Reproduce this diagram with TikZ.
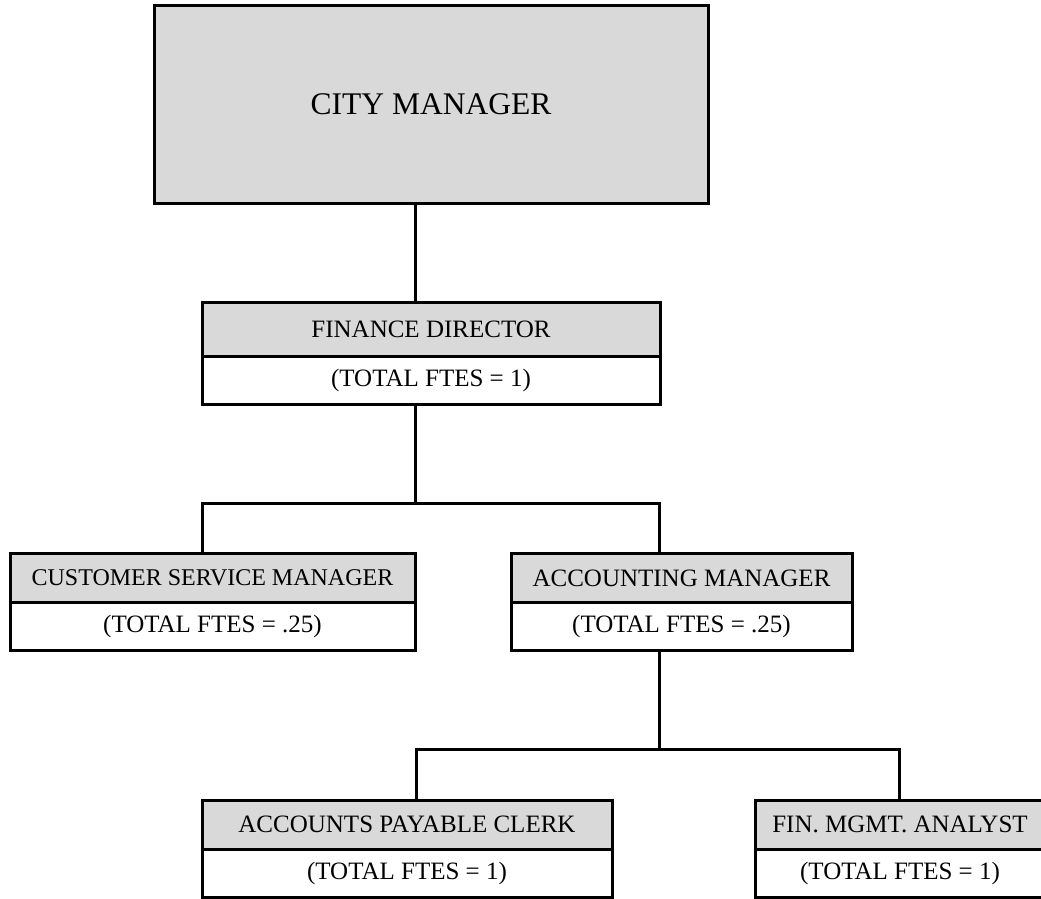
\documentclass[tikz,border=0pt]{standalone}
\usepackage{fontspec}
\setmainfont{Liberation Serif}
\usetikzlibrary{calc, positioning}
\definecolor{boxgray}{HTML}{D9D9D9}

\begin{document}
\begin{tikzpicture}[x=1pt, y=-1pt,
    headcell/.style = {draw, fill=boxgray, line width=3pt, minimum height=49pt,
                       inner sep=0pt, outer sep=0pt, font=\fontsize{25}{30}\selectfont},
    ftecell/.style  = {draw, fill=white, line width=3pt, minimum height=48pt,
                       inner sep=0pt, outer sep=0pt, font=\fontsize{25}{30}\selectfont},
    orgline/.style  = {line width=3pt}]
  \useasboundingbox (0,0) rectangle (1041,899);

  \node [headcell, minimum width=554pt, minimum height=197pt,
         font=\fontsize{31.5}{36}\selectfont] (cm) at (431,104.5) {CITY MANAGER};

  \node [headcell, minimum width=458pt, minimum height=54pt] (fd) at (431,329) {FINANCE DIRECTOR};
  \node [ftecell, minimum width=458pt, below = 0pt of fd] (fdfte) {(TOTAL FTES = 1)};

  \node [headcell, minimum width=405pt, font=\fontsize{24}{29}\selectfont] (csm) at (212.5,578) {CUSTOMER SERVICE MANAGER};
  \node [ftecell, minimum width=405pt, below = 0pt of csm] (csmfte) {(TOTAL FTES = .25)};

  \node [headcell, minimum width=341pt] (am) at (681.5,578) {ACCOUNTING MANAGER};
  \node [ftecell, minimum width=341pt, below = 0pt of am] (amfte) {(TOTAL FTES = .25)};

  \node [headcell, minimum width=410pt] (apc) at (407,824.5) {ACCOUNTS PAYABLE CLERK};
  \node [ftecell, minimum width=410pt, below = 0pt of apc] (apcfte) {(TOTAL FTES = 1)};

  \node [headcell, minimum width=290pt] (fma) at (900,824.5) {FIN. MGMT. ANALYST};
  \node [ftecell, minimum width=290pt, below = 0pt of fma] (fmafte) {(TOTAL FTES = 1)};

  % city manager down to finance
  \draw [orgline] ([xshift=-16pt]cm.south) -- ([xshift=-16pt]fd.north);

  % finance to the two managers
  \coordinate (fdjoin) at ($(fdfte.south) + (-16,99)$);
  \coordinate (csmtop) at ([xshift=-10.5pt]csm.north);
  \coordinate (amtop) at ([xshift=-22.5pt]am.north);
  \draw [orgline] ([xshift=-16pt]fdfte.south) -- (fdjoin);
  \draw [orgline] (csmtop) -- (csmtop |- fdjoin) -- (amtop |- fdjoin) -- (amtop);

  % accounting to clerk and analyst
  \coordinate (amjoin) at ($(amfte.south) + (-22.5,99)$);
  \coordinate (apctop) at ([xshift=9pt]apc.north);
  \coordinate (fmatop) at ([xshift=-1pt]fma.north);
  \draw [orgline] ([xshift=-22.5pt]amfte.south) -- (amjoin);
  \draw [orgline] (apctop) -- (apctop |- amjoin) -- (fmatop |- amjoin) -- (fmatop);
\end{tikzpicture}
\end{document}
